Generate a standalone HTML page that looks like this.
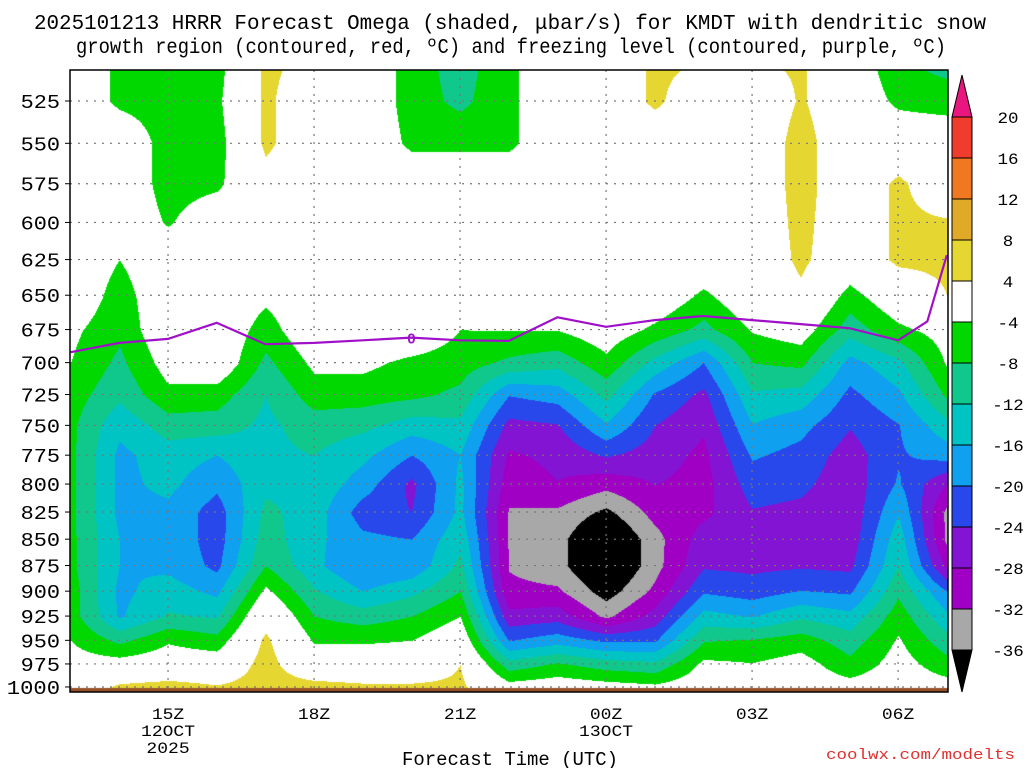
<!DOCTYPE html>
<html><head><meta charset="utf-8">
<style>
body{margin:0;background:#fff;width:1024px;height:768px;overflow:hidden;font-family:"Liberation Sans",sans-serif;}
#wrap{position:relative;width:1024px;height:768px;}
canvas{position:absolute;left:0;top:0;}
svg{position:absolute;left:0;top:0;}
</style></head>
<body>
<div id="wrap">
<canvas id="cv" width="1024" height="768"></canvas>
<svg id="sv" width="1024" height="768"></svg>
</div>
<script>
const hours=[13,14,15,16,17,18,19,20,21,22,23,24,25,26,27,28,29,30,31];
const levels=[500,525,550,575,600,625,650,675,700,725,750,775,800,825,850,875,900,925,950,975,1000];
const omega=[
[0,-5,-5,-6,5,3,0,-6,-10,-5,0,0,5,4.5,4.5,4.5,0,-8,-10],
[0,-5,-6,-5,5,0,0,-6,-9,-5,0,0,5,0,0,4.5,0,-5,-6],
[0,0,-6,-6,5,0,0,-5,-5,-5,0,0,0,0,0,6,0,0,0],
[0,0,-6,-5,2,0,0,0,0,0,0,0,0,0,0,6,0,5,0],
[0,0,-4.5,0,0,0,0,0,0,0,0,0,0,0,0,5.5,0,5,4.5],
[0,-4,0,0,0,0,0,0,0,0,0,0,0,0,0,5,0,5,5],
[0,-6,0,0,-3,0,0,0,0,0,0,0,0,-4.9,0,3,-5.7,0,4],
[-3,-7,0,0,-6,0,0,0,-4,-3.8,-3.8,-1,-5,-9.3,-3.6,-1.5,-10.2,-5,-2],
[-4,-9,-2,0,-9,-3,-3,-5,-6,-8.9,-10.6,-5.2,-13.3,-20,-8,-7,-17.5,-13,-3.5],
[-6,-11,-5,-6,-12,-6,-6,-7,-9,-19.8,-18.2,-10.7,-20.5,-25,-12.5,-13.5,-21,-16.8,-7.3],
[-7,-15,-10,-10,-13,-10,-11,-14,-13,-25.3,-24.3,-16.4,-24,-27.4,-16.2,-18.7,-23.7,-20.2,-13.3],
[-7,-17,-14,-16,-13,-12,-15,-20,-16,-28.6,-27,-23.6,-26,-29,-19.5,-21.4,-26,-20.5,-18.3],
[-7,-17,-15,-19,-13,-13,-18,-25,-15,-30.3,-28.1,-30.6,-27.9,-29.5,-22.1,-23.1,-26.5,-19.5,-28],
[-7,-17,-17,-22,-11,-14,-22,-24,-15,-32.3,-32.7,-37,-30.5,-29,-24.3,-25,-27,-16.3,-33],
[-7,-16,-17,-22,-10,-15,-19,-20,-13,-32.3,-34.5,-42,-33.5,-26,-25.5,-25.5,-26.5,-13.5,-33],
[-7,-16,-17,-21,-8,-15,-20,-19,-11,-32.3,-34.5,-42,-33.5,-24.5,-25,-24.5,-25,-11.9,-29],
[-6,-17,-14,-17,-3,-11.5,-16,-13,-8,-31,-31.3,-38,-31,-20.5,-21.9,-19.8,-20.7,-8.8,-20],
[-6,-16.5,-11.5,-12.5,2,-8,-10,-8,-4,-26.8,-25.8,-32.9,-26.4,-14.5,-16.3,-12.6,-14.8,-5.8,-15],
[-4,-9,-4.5,-6.5,5,-4.5,-4.5,-4,0,-20.2,-17.7,-20.7,-20.5,-8.3,-7.6,-6,-10.1,-3.5,-10.5],
[-2,-2,-1,-1,6,-1,-1,-1,4,-10.4,-7.5,-10,-11,-3,-3.8,-2,-6.9,-2,-6.5],
[0,5,6,4.5,6,6,5,5,5,-2,-1,-2,-3,-1,-1,-1,-2,-1,-2]
];
const frzHours=[13,14,15,16,17,18,19,20,21,22,23,24,25,26,27,28,29,30,30.6,31];
const frzLevel=[692,685,682,670,686,685,683,681,683,683.5,666,673,668,665,668,671,674,683,669,622];
const yTicks=[525,550,575,600,625,650,675,700,725,750,775,800,825,850,875,900,925,950,975,1000];
const xTickHours=[15,18,21,24,27,30];
const xTickLabels=[["15Z","12OCT","2025"],["18Z"],["21Z"],["00Z","13OCT"],["03Z"],["06Z"]];
const cbBounds=[20,16,12,8,4,-4,-8,-12,-16,-20,-24,-28,-32,-36];
const cbColors=["#e8167e","#f03c2c","#f07820","#e0aa28","#e6d632","#ffffff","#00d800","#10c88c","#00c4c4","#10a0f0","#2848ec","#8414d4","#a000c4","#a8a8a8","#000000"];

const X0=70,X1=948,Y0=70,Y1=692;
const xs=h=>70.7+(h-13)*48.67;
const ys=p=>101+909.4*Math.log(p/525);
function colorFor(v){for(let i=0;i<cbBounds.length;i++){if(v>=cbBounds[i])return cbColors[i];}return cbColors[cbColors.length-1];}
function hex(c){return [parseInt(c.substr(1,2),16),parseInt(c.substr(3,2),16),parseInt(c.substr(5,2),16)];}
function valAt(h,p){
  let i=Math.max(0,Math.min(hours.length-2,Math.floor(h-13)));
  let fx=Math.max(0,Math.min(1,(h-hours[i])/(hours[i+1]-hours[i])));
  let y=ys(p);let j=0;
  while(j<levels.length-2&&ys(levels[j+1])<y)j++;
  let y0=ys(levels[j]),y1=ys(levels[j+1]);
  let fy=Math.max(0,Math.min(1,(y-y0)/(y1-y0)));
  let a=omega[j][i]*(1-fx)+omega[j][i+1]*fx;
  let b=omega[j+1][i]*(1-fx)+omega[j+1][i+1]*fx;
  return a*(1-fy)+b*fy;
}
const cv=document.getElementById('cv');const ctx=cv.getContext('2d');
const img=ctx.createImageData(X1-X0,Y1-Y0);
for(let py=Y0;py<Y1;py++){for(let px=X0;px<X1;px++){
  let h=13+(px-70.7)/48.67;let p=525*Math.exp((py-101)/909.4);
  let c;
  if(py>=688)c=[150,80,40];
  else c=hex(colorFor(valAt(h,Math.min(p,1000))));
  let k=((py-Y0)*(X1-X0)+(px-X0))*4;img.data[k]=c[0];img.data[k+1]=c[1];img.data[k+2]=c[2];img.data[k+3]=255;}}
ctx.putImageData(img,X0,Y0);

const NS="http://www.w3.org/2000/svg";const sv=document.getElementById('sv');
function el(t,a,txt){const e=document.createElementNS(NS,t);for(const k in a)e.setAttribute(k,a[k]);if(txt!==undefined)e.textContent=txt;sv.appendChild(e);return e;}
const MONO='"Liberation Mono",monospace';
yTicks.forEach(p=>{const y=ys(p);
 const g=el('line',{x1:X0,x2:X1,y1:y,y2:y,stroke:'#777','stroke-dasharray':'2,6','stroke-width':1.2});
 
 const s=String(p);
 const t=el('text',{x:62-s.length*13.8,y:y+7,'font-size':19,'font-family':MONO,fill:'#000',textLength:s.length*13.8-2,lengthAdjust:'spacingAndGlyphs'},s);
 
 const tk=el('line',{x1:X0-5,x2:X0,y1:y,y2:y,stroke:'#000'});
 });
xTickHours.forEach((h,i)=>{const x=xs(h);
 const g=el('line',{x1:x,x2:x,y1:Y0,y2:Y1,stroke:'#777','stroke-dasharray':'2,6','stroke-width':1.2});
 
 xTickLabels[i].forEach((s,j)=>{const t=el('text',{x:x,y:719+j*17,'text-anchor':'middle','font-size':16,'font-family':MONO,fill:'#000',textLength:s.length*10.8,lengthAdjust:'spacingAndGlyphs'},s);
  });});
let d=frzHours.map((h,i)=>(i?'L':'M')+xs(h).toFixed(1)+','+ys(frzLevel[i]).toFixed(1)).join(' ');
const fl=el('path',{d:d,fill:'none',stroke:'#a010c8','stroke-width':2.2});

const fll=el('text',{x:xs(20),y:ys(frzLevel[7])+6,'text-anchor':'middle','font-size':15,'font-weight':'bold',fill:'#a010c8'},'0');

const fr=el('rect',{x:X0,y:Y0,width:X1-X0,height:Y1-Y0,fill:'none',stroke:'#000','stroke-width':1.5});

const cbX=952,cbW=20,cbTop=75,band=41;
cbColors.forEach((c,i)=>{let e;
 if(i===0){e=el('polygon',{points:`${cbX},${cbTop+42} ${cbX+cbW},${cbTop+42} ${cbX+cbW/2},${cbTop}`,fill:c,stroke:'#000'});}
 else if(i===cbColors.length-1){const y=117+band*13;e=el('polygon',{points:`${cbX},${y} ${cbX+cbW},${y} ${cbX+cbW/2},${y+42}`,fill:c,stroke:'#000'});}
 else{e=el('rect',{x:cbX,y:117+band*(i-1),width:cbW,height:band,fill:c,stroke:'#000'});}
 });
cbBounds.forEach((b,i)=>{const s=String(b);const t=el('text',{x:1008,y:117+band*i+6,'text-anchor':'middle','font-size':16,'font-family':MONO,fill:'#000',textLength:s.length*10.5,lengthAdjust:'spacingAndGlyphs'},s);
 });
const t1=el('text',{x:34,y:29,'font-size':21,'font-family':MONO,fill:'#000',textLength:952,lengthAdjust:'spacingAndGlyphs'},'2025101213 HRRR Forecast Omega (shaded, \u03bcbar/s) for KMDT with dendritic snow');

const t2=el('text',{x:76,y:53,'font-size':21,'font-family':MONO,fill:'#000',textLength:870,lengthAdjust:'spacingAndGlyphs'},'growth region (contoured, red, \u00baC) and freezing level (contoured, purple, \u00baC)');

const xt=el('text',{x:402,y:765,'font-size':19,'font-family':MONO,fill:'#000',textLength:216,lengthAdjust:'spacingAndGlyphs'},'Forecast Time (UTC)');

const cr=el('text',{x:826,y:759,'font-size':15,'font-family':MONO,fill:'#e03030',textLength:189,lengthAdjust:'spacingAndGlyphs'},'coolwx.com/modelts');

</script>
</body></html>
